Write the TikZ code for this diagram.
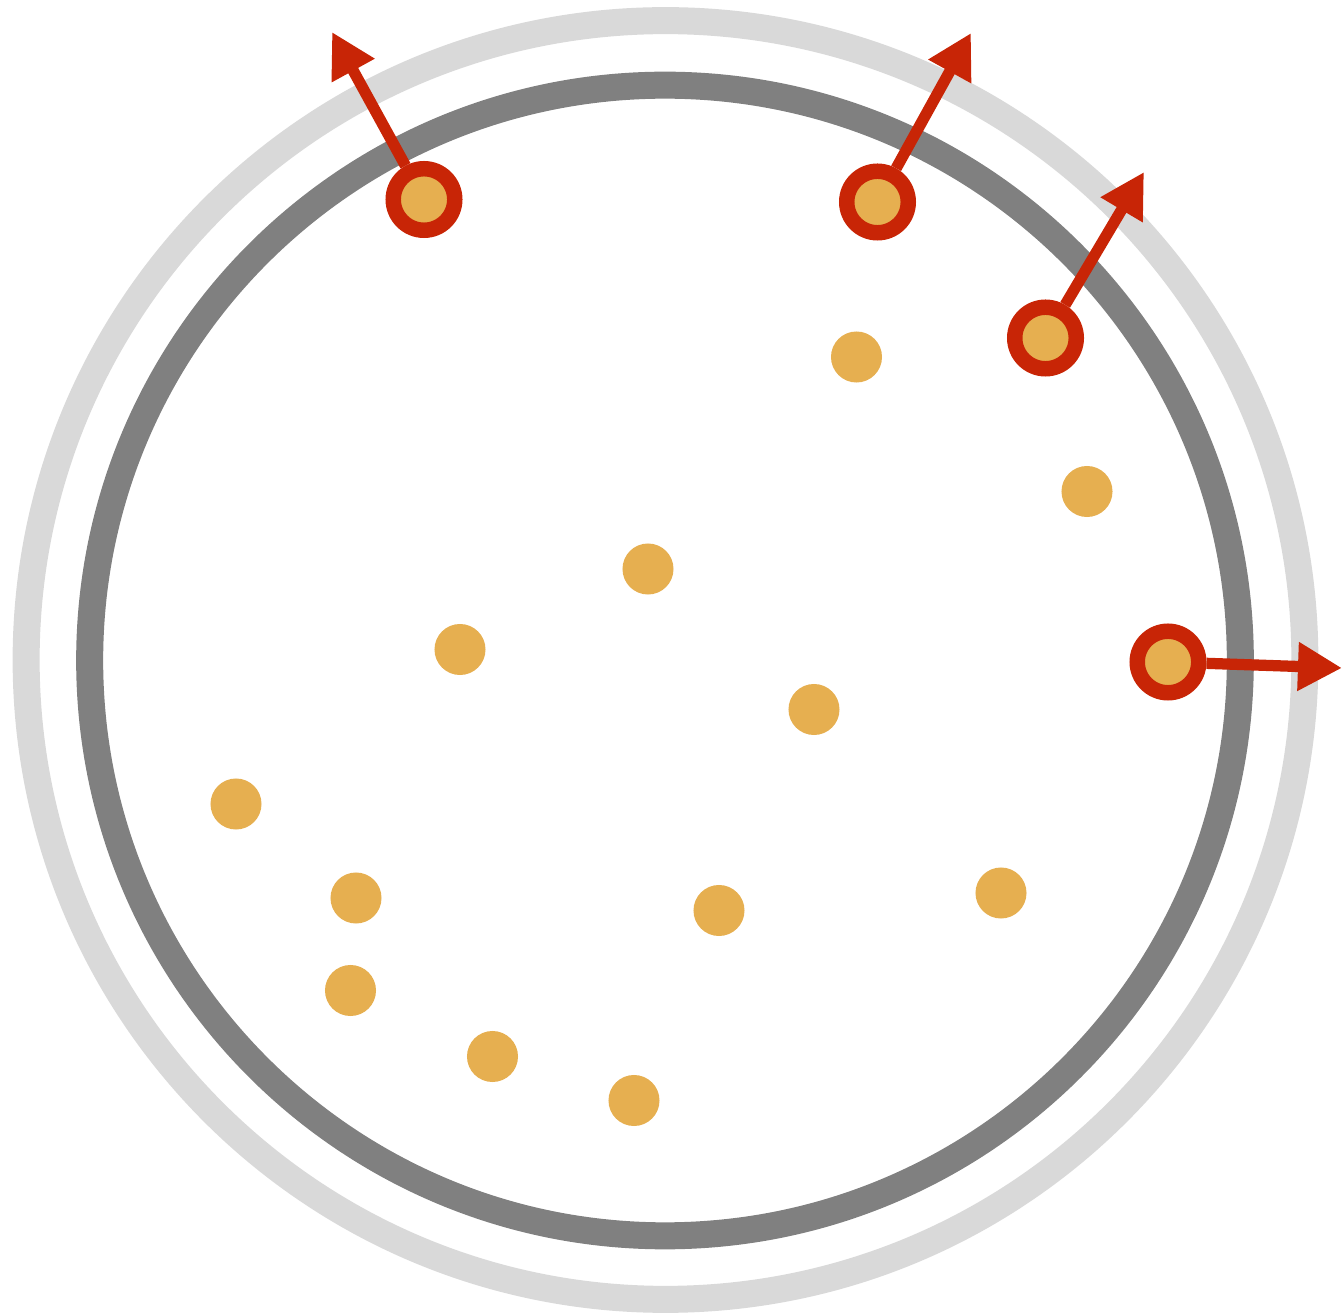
\documentclass[tikz,border=0pt]{standalone}
\usepackage{xcolor}
\usepackage{tikz}
\usetikzlibrary{arrows.meta}
\definecolor{wallouter}{RGB}{217,217,217}
\definecolor{wallinner}{RGB}{128,128,128}
\definecolor{particle}{RGB}{230,175,80}
\definecolor{escape}{RGB}{200,37,6}
\tikzset{
  wall/.style={line width=7.68pt},
  dot/.style={
    circle, fill=particle, minimum size=0.51cm, inner sep=0pt
  },
  escaped/.style={
    circle, draw=escape, fill=particle, line width=4.4pt,
    minimum size=0.615cm, inner sep=0pt
  },
  leaving/.style={draw=escape, line width=3.2pt,
    -{Triangle[length=0.44cm, width=0.46cm]}},
}

\begin{document}
\begin{tikzpicture}[x=0.01cm, y=-0.01cm]
  \useasboundingbox (0,0) rectangle (1342,1313);
  \draw[wall, wallouter] (665.5,660) circle[radius=6.39cm];
  \draw[wall, wallinner] (665,660.5) circle[radius=5.75cm];

  \node[dot] (d1) at (856.5,357) {};
  \node[dot] (d2) at (1087,491.5) {};
  \node[dot] (d3) at (648,569) {};
  \node[dot] (d4) at (460,649.5) {};
  \node[dot] (d5) at (814,709.5) {};
  \node[dot] (d6) at (236,804) {};
  \node[dot] (d7) at (356,898) {};
  \node[dot] (d8) at (719,910.5) {};
  \node[dot] (d9) at (1001,893) {};
  \node[dot] (d10) at (350.5,990.5) {};
  \node[dot] (d11) at (492.5,1056.5) {};
  \node[dot] (d12) at (634,1100.5) {};

  \node[escaped] (e1) at (424,199.5) {};
  \node[escaped] (e2) at (877.5,202) {};
  \node[escaped] (e3) at (1045.5,338) {};
  \node[escaped] (e4) at (1168,662) {};

  \coordinate (t1) at (332,32);
  \coordinate (t2) at (971,33);
  \coordinate (t3) at (1144,172);
  \coordinate (t4) at (1342,668);

  \draw[leaving] (e1) -- (t1);
  \draw[leaving] (e2) -- (t2);
  \draw[leaving] (e3) -- (t3);
  \draw[leaving] (e4) -- (t4);
\end{tikzpicture}
\end{document}
